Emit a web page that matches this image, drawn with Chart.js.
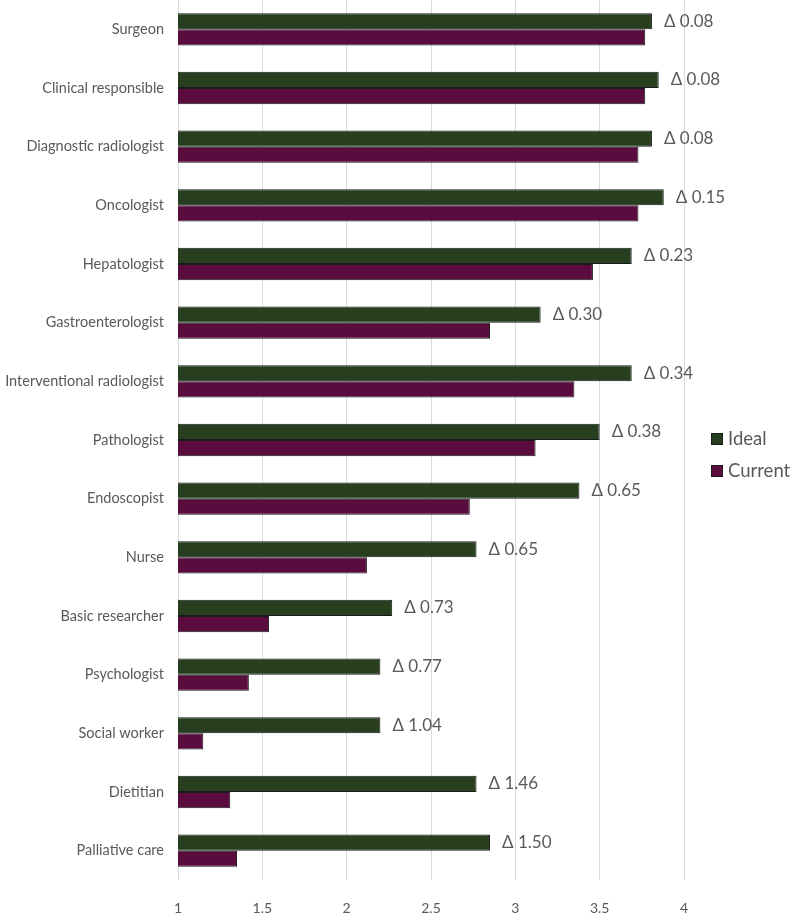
<!DOCTYPE html>
<html>
<head>
<meta charset="utf-8">
<script src="https://cdn.jsdelivr.net/npm/chart.js@4.4.0/dist/chart.umd.min.js"></script>
<style>
    body { margin: 0; background: #fff; font-family: Lato, sans-serif; }
    #wrap { position: relative; width: 792px; height: 918px; }
    .legend { position: absolute; left: 711px; color: #595959; font-size: 18.5px; line-height: 22px; }
    .legend span { display: inline-block; width: 10px; height: 10px; border: 1px solid #1a1a1a; margin-right: 5px; vertical-align: 0px; }
</style>
</head>
<body>
<div id="wrap">
    <canvas id="chart" width="792" height="918"></canvas>
    <div class="legend" style="top: 427px;"><span style="background:#273f1e"></span>Ideal</div>
    <div class="legend" style="top: 459px;"><span style="background:#5a0c3e"></span>Current</div>
</div>
<script>
    const categories = ['Surgeon', 'Clinical responsible', 'Diagnostic radiologist', 'Oncologist', 'Hepatologist',
        'Gastroenterologist', 'Interventional radiologist', 'Pathologist', 'Endoscopist', 'Nurse',
        'Basic researcher', 'Psychologist', 'Social worker', 'Dietitian', 'Palliative care'];
    const ideal = [3.81, 3.85, 3.81, 3.88, 3.69, 3.15, 3.69, 3.50, 3.38, 2.77, 2.27, 2.20, 2.20, 2.77, 2.85];
    const current = [3.77, 3.77, 3.73, 3.73, 3.46, 2.85, 3.35, 3.12, 2.73, 2.12, 1.54, 1.42, 1.15, 1.31, 1.35];
    const deltaLabels = ['Δ 0.08', 'Δ 0.08', 'Δ 0.08', 'Δ 0.15', 'Δ 0.23', 'Δ 0.30', 'Δ 0.34', 'Δ 0.38',
        'Δ 0.65', 'Δ 0.65', 'Δ 0.73', 'Δ 0.77', 'Δ 1.04', 'Δ 1.46', 'Δ 1.50'];
    const xTicks = [1, 1.5, 2, 2.5, 3, 3.5, 4];

    // texte des deltas à droite des barres "Ideal"
    const deltaPlugin = {
        id: 'deltas',
        afterDatasetsDraw(chart) {
            const ctx = chart.ctx;
            const meta = chart.getDatasetMeta(0);
            ctx.save();
            ctx.font = '17px Lato, sans-serif';
            ctx.fillStyle = '#595959';
            ctx.textBaseline = 'middle';
            meta.data.forEach((bar, i) => {
                ctx.fillText(deltaLabels[i], bar.x + 12, bar.y);
            });
            ctx.restore();
        }
    };

    new Chart(document.getElementById('chart'), {
        type: 'bar',
        data: {
            labels: categories,
            datasets: [
                { label: 'Ideal', data: ideal, backgroundColor: '#273f1e', borderColor: '#1a1a1a', borderWidth: 1,
                  categoryPercentage: 0.55, barPercentage: 1 },
                { label: 'Current', data: current, backgroundColor: '#5a0c3e', borderColor: '#1a1a1a', borderWidth: 1,
                  categoryPercentage: 0.55, barPercentage: 1 }
            ]
        },
        options: {
            indexAxis: 'y',
            responsive: false,
            animation: false,
            layout: { padding: { top: 0, right: 108, bottom: 0, left: 0 } },
            plugins: { legend: { display: false }, tooltip: { enabled: false } },
            scales: {
                x: {
                    min: 1, max: 4,
                    afterBuildTicks: scale => { scale.ticks = xTicks.map(v => ({ value: v })); },
                    afterFit: scale => { scale.height = 38; scale.paddingLeft = 0; scale.paddingRight = 0; },
                    grid: { color: '#d9d9d9', lineWidth: 1, drawTicks: false },
                    border: { display: false },
                    ticks: { color: '#595959', font: { family: 'Lato', size: 14 }, padding: 20, callback: v => String(v) }
                },
                y: {
                    afterFit: scale => { scale.width = 178; scale.paddingTop = 0; scale.paddingBottom = 0; },
                    grid: { display: false, drawTicks: false },
                    border: { display: false },
                    ticks: { color: '#595959', font: { family: 'Lato', size: 14.5 }, padding: 14 }
                }
            }
        },
        plugins: [deltaPlugin]
    });
</script>
</body>
</html>
